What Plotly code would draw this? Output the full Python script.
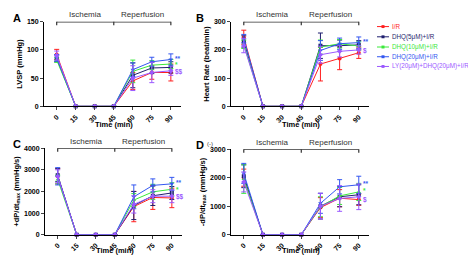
import plotly.graph_objects as go

W, H = 476, 255

times = [0, 15, 30, 45, 60, 75, 90]
tick_labels = ["0", "15", "30", "45", "60", "75", "90"]

series_names = ["I/R", "DHQ(5μM)+I/R", "DHQ(10μM)+I/R", "DHQ(20μM)+I/R",
                "LY(20μM)+DHQ(20μM)+I/R"]
colors = ["#ff1f1f", "#1f1f6e", "#3be83b", "#3457f0", "#9b59ff"]
symbols = ["circle", "square", "triangle-up", "triangle-down", "diamond"]

# Panel A: LVSP (mmHg)
lvsp_ir = [92, 0, 0, 0, 45, 60, 60]
lvsp_d5 = [85, 0, 0, 0, 55, 68, 69]
lvsp_d10 = [82, 0, 0, 0, 62, 73, 75]
lvsp_d20 = [86, 0, 0, 0, 65, 79, 83]
lvsp_ly = [90, 0, 0, 0, 50, 60, 63]
lvsp_ir_err = [9, None, None, None, 15, 12, 15]
lvsp_d5_err = [6, None, None, None, 22, 10, 10]
lvsp_d10_err = [4, None, None, None, 20, 8, 8]
lvsp_d20_err = [6, None, None, None, 12, 8, 10]
lvsp_ly_err = [8, None, None, None, 22, 18, 8]

# Panel B: Heart rate (beat/min)
hr_ir = [245, 0, 0, 0, 150, 170, 190]
hr_d5 = [230, 0, 0, 0, 215, 215, 218]
hr_d10 = [220, 0, 0, 0, 210, 222, 214]
hr_d20 = [240, 0, 0, 0, 198, 222, 226]
hr_ly = [215, 0, 0, 0, 183, 195, 200]
hr_ir_err = [25, None, None, None, 60, 40, 20]
hr_d5_err = [20, None, None, None, 45, 20, 15]
hr_d10_err = [15, None, None, None, 25, 15, 15]
hr_d20_err = [15, None, None, None, 35, 20, 20]
hr_ly_err = [25, None, None, None, 30, 20, 15]

# Panel C: +dP/dt max (mmHg/s)
pdp_ir = [2700, 0, 0, 0, 1300, 1720, 1700]
pdp_d5 = [2750, 0, 0, 0, 1350, 1800, 1930]
pdp_d10 = [2550, 0, 0, 0, 1600, 1980, 2100]
pdp_d20 = [2700, 0, 0, 0, 1750, 2280, 2350]
pdp_ly = [2700, 0, 0, 0, 1400, 1780, 1780]
pdp_ir_err = [350, None, None, None, 700, 550, 450]
pdp_d5_err = [300, None, None, None, 650, 450, 300]
pdp_d10_err = [200, None, None, None, 300, 350, 300]
pdp_d20_err = [400, None, None, None, 550, 300, 300]
pdp_ly_err = [300, None, None, None, 400, 300, 300]

# Panel D: -dP/dt max (mmHg/s)
ndp_ir = [2000, 0, 0, 0, 950, 1280, 1230]
ndp_d5 = [2050, 0, 0, 0, 1000, 1330, 1400]
ndp_d10 = [1950, 0, 0, 0, 980, 1360, 1500]
ndp_d20 = [2150, 0, 0, 0, 1100, 1680, 1750]
ndp_ly = [1850, 0, 0, 0, 1000, 1270, 1330]
ndp_ir_err = [300, None, None, None, 350, 300, 200]
ndp_d5_err = [400, None, None, None, 450, 350, 350]
ndp_d10_err = [500, None, None, None, 350, 300, 300]
ndp_d20_err = [350, None, None, None, 350, 250, 300]
ndp_ly_err = [350, None, None, None, 450, 450, 450]

panels = [
    dict(title="LVSP (mmHg)", ymax=150, dtick=50,
         vals=[lvsp_ir, lvsp_d5, lvsp_d10, lvsp_d20, lvsp_ly],
         errs=[lvsp_ir_err, lvsp_d5_err, lvsp_d10_err, lvsp_d20_err, lvsp_ly_err],
         sig=[(3, "**", 1), (2, "*", 0), (4, "$$", -1)],
         px=(36, 173), py=(10, 97), tx=106, ty=116),
    dict(title="Heart Rate (beat/min)", ymax=300, dtick=100,
         vals=[hr_ir, hr_d5, hr_d10, hr_d20, hr_ly],
         errs=[hr_ir_err, hr_d5_err, hr_d10_err, hr_d20_err, hr_ly_err],
         sig=[(3, "**", 1), (4, "$", -1)],
         px=(223, 361), py=(10, 97), tx=293, ty=116),
    dict(title="+dP/dt<sub>max</sub> (mmHg/s)", ymax=4000, dtick=1000,
         vals=[pdp_ir, pdp_d5, pdp_d10, pdp_d20, pdp_ly],
         errs=[pdp_ir_err, pdp_d5_err, pdp_d10_err, pdp_d20_err, pdp_ly_err],
         sig=[(3, "**", 1), (2, "*", 0), (4, "$$", -1)],
         px=(37, 174), py=(140, 229), tx=107, ty=245),
    dict(title="-dP/dt<sub>max</sub> (mmHg/s)", ymax=3000, dtick=1000,
         vals=[ndp_ir, ndp_d5, ndp_d10, ndp_d20, ndp_ly],
         errs=[ndp_ir_err, ndp_d5_err, ndp_d10_err, ndp_d20_err, ndp_ly_err],
         sig=[(3, "**", 1), (2, "*", 1), (4, "$", -3)],
         px=(223, 361), py=(141, 229), tx=293, ty=245),
]

FONT = "Liberation Sans, Arial, sans-serif"

fig = go.Figure()
layout = dict(width=W, height=H, margin=dict(l=0, r=0, t=0, b=0),
              paper_bgcolor="white", plot_bgcolor="white", showlegend=False,
              font=dict(family=FONT, size=8, color="black"))
shapes = []
annotations = []

XMIN, XMAX = -10, 98

for i, p in enumerate(panels):
    k = "" if i == 0 else str(i + 1)
    xa, ya = "x" + k, "y" + k
    dom_x = [p["px"][0] / W, p["px"][1] / W]
    dom_y = [1 - p["py"][1] / H, 1 - p["py"][0] / H]
    layout["xaxis" + k] = dict(
        domain=dom_x, range=[XMIN, XMAX], anchor=ya, tickmode="array",
        tickvals=times, ticktext=tick_labels, tickangle=-45,
        showline=True, linecolor="black", linewidth=1, ticks="outside",
        ticklen=3, tickwidth=1, showgrid=False, zeroline=False,
        tickfont=dict(family=FONT, size=7, color="black", weight="bold"))
    layout["yaxis" + k] = dict(
        domain=dom_y, range=[0, p["ymax"]], anchor=xa, dtick=p["dtick"],
        showline=True, linecolor="black", linewidth=1, ticks="outside",
        ticklen=3, tickwidth=1, showgrid=False, zeroline=False,
        tickfont=dict(family=FONT, size=7, color="black", weight="bold"),
        title=dict(text="<b>" + p["title"] + "</b>", standoff=3,
                   font=dict(family=FONT, size=7.5, color="black")))
    annotations.append(dict(text="<b>Time (min)</b>", xref="paper", yref="paper",
                            x=p["tx"] / W, y=1 - p["ty"] / H, xanchor="center",
                            yanchor="middle", showarrow=False, borderpad=0,
                            font=dict(family=FONT, size=7.5, color="black")))
    for s in range(5):
        fig.add_trace(go.Scatter(
            x=times, y=p["vals"][s], xaxis=xa, yaxis=ya, mode="lines+markers",
            name=series_names[s], cliponaxis=False,
            line=dict(color=colors[s], width=1),
            marker=dict(symbol=symbols[s], size=4, color=colors[s]),
            error_y=dict(type="data", array=p["errs"][s], visible=True,
                         color=colors[s], thickness=1, width=2.5)))
    # Ischemia / Reperfusion bar
    ytop = p["ymax"]
    for (a, b) in [(0, 45), (45, 90)]:
        shapes.append(dict(type="line", xref=xa, yref=ya, x0=a, x1=b,
                           y0=ytop, y1=ytop, line=dict(color="#333333", width=1.5)))
    for t in [0, 45, 90]:
        shapes.append(dict(type="line", xref=xa, yref=ya, x0=t, x1=t,
                           ysizemode="pixel", yanchor=ytop, y0=-3.5, y1=3.5,
                           line=dict(color="#333333", width=1.2)))
    annotations.append(dict(text="Ischemia", xref=xa, yref=ya, x=22.5, y=ytop,
                            yshift=7, showarrow=False,
                            font=dict(family=FONT, size=8, color="#333333")))
    annotations.append(dict(text="Reperfusion", xref=xa, yref=ya, x=67.5, y=ytop,
                            yshift=7, showarrow=False,
                            font=dict(family=FONT, size=8, color="#333333")))
    # significance marks
    for (s, txt, dy) in p["sig"]:
        annotations.append(dict(text="<b>" + txt + "</b>", xref=xa, yref=ya, x=90,
                                y=p["vals"][s][-1], xanchor="left", xshift=2,
                                yshift=dy, showarrow=False,
                                font=dict(family=FONT, size=6.5, color=colors[s])))

# panel letters
letters = [("A", 3, 6), ("B", 186, 6), ("C", 3, 136), ("D", 186, 137)]
for (t, x, y) in letters:
    annotations.append(dict(text="<b>" + t + "</b>", xref="paper", yref="paper",
                            x=x / W, y=1 - y / H, xanchor="left", yanchor="middle",
                            showarrow=False,
                            font=dict(family=FONT, size=11, color="black")))
annotations.append(dict(text="(-)", xref="paper", yref="paper", x=197 / W,
                        y=1 - 136 / H, xanchor="left", yanchor="middle",
                        showarrow=False, font=dict(family=FONT, size=6, color="#333333")))

# legend (manual)
leg_y = [15, 25.5, 36, 46, 56]
for s in range(5):
    yy = 1 - leg_y[s] / H
    shapes.append(dict(type="line", xref="paper", yref="paper", x0=369 / W,
                       x1=381 / W, y0=yy, y1=yy,
                       line=dict(color=colors[s], width=1)))
    shapes.append(dict(type="rect", xref="paper", yref="paper",
                       x0=373.5 / W, x1=376.5 / W, y0=yy - 1.5 / H, y1=yy + 1.5 / H,
                       fillcolor=colors[s], line=dict(width=0)))
    annotations.append(dict(text=series_names[s], xref="paper", yref="paper",
                            x=382 / W, y=yy, xanchor="left", yanchor="middle",
                            showarrow=False,
                            font=dict(family=FONT, size=6.3, color=colors[s])))

layout["shapes"] = shapes
layout["annotations"] = annotations
fig.update_layout(**layout)
fig.write_html("out.html")
